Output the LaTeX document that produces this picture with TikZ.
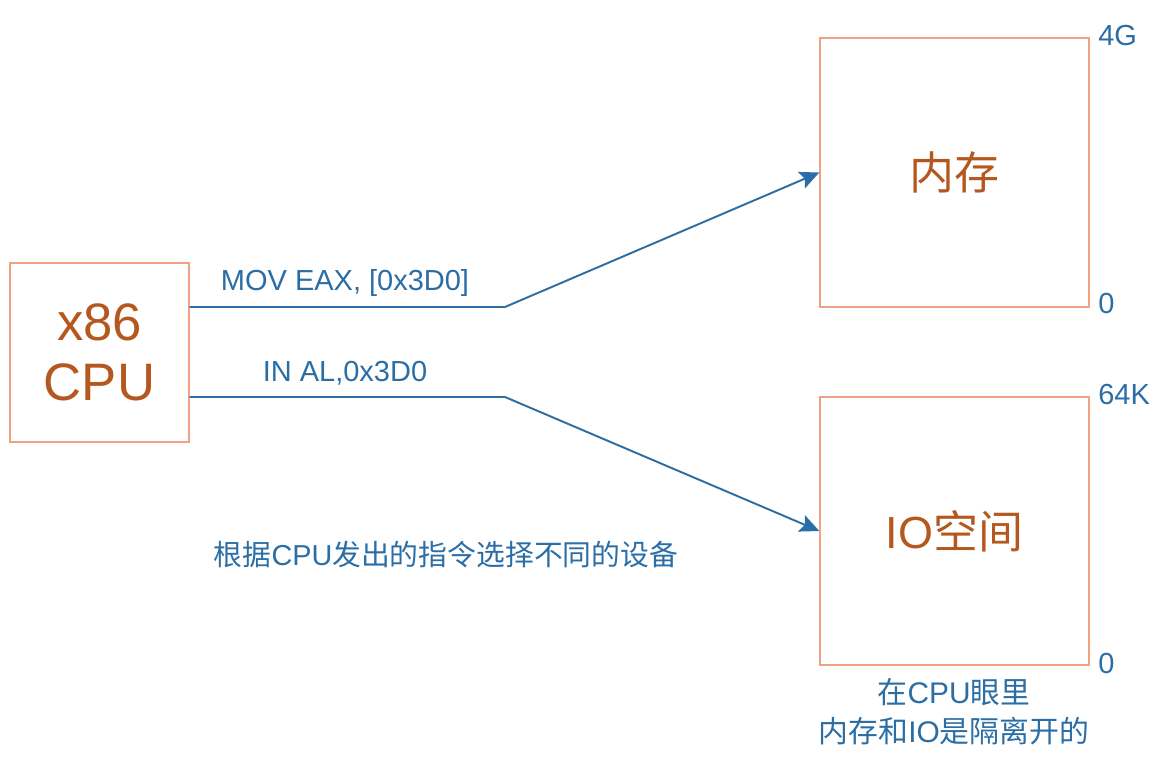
\documentclass[tikz,border=0pt]{standalone}
\usepackage{fontspec}
\setmainfont{Liberation Sans}
\newfontfamily\cjk{Noto Sans CJK SC}
\usetikzlibrary{arrows.meta}
\definecolor{rahmen}{HTML}{F0A282}
\definecolor{braun}{HTML}{B5581F}
\definecolor{blau}{HTML}{2B6EA6}
\tikzset{
  kasten/.style={draw=rahmen,line width=0.8pt,text=braun,inner sep=0pt},
  pfeil/.style={draw=blau,line width=1.1pt,-{Stealth[length=11pt,width=10pt,inset=2pt]}},
  beschr/.style={text=blau,inner sep=0pt,font=\fontsize{16.5}{20}\selectfont}
}
\begin{document}
\begin{tikzpicture}[x=0.02cm,y=-0.02cm]
\useasboundingbox (0,0) rectangle (1161,759);
% CPU links
\node[kasten,minimum width=3.58cm,minimum height=3.58cm,align=center,
  font=\fontsize{30}{34}\selectfont] (cpu) at (99.5,352.5) {x86\\CPU};
% Speicher und IO-Raum rechts
\node[kasten,minimum width=5.38cm,minimum height=5.38cm,
  font=\cjk\fontsize{25.6}{30}\selectfont] (mem) at (954.5,172.5) {内存};
\node[kasten,minimum width=5.38cm,minimum height=5.36cm,
  font=\fontsize{25.6}{30}\selectfont] (io) at (954.5,531) {IO{\cjk 空间}};
% Adressgrenzen
\node[beschr,anchor=west] (top1) at (1098,36) {4G};
\node[beschr,anchor=west] (bot1) at (1098,304) {0};
\node[beschr,anchor=west] (top2) at (1098,395) {64K};
\node[beschr,anchor=west] (bot2) at (1098,664) {0};
% Befehle und Pfeile
\coordinate (k1) at (505,307);
\coordinate (k2) at (505,397);
\draw[pfeil] (cpu.east |- k1) -- (k1) -- (mem.west);
\draw[pfeil] (cpu.east |- k2) -- (k2) -- (io.west);
\node[beschr] (mov) at (345,283) {MOV EAX, [0x3D0]};
\node[beschr] (in) at (345,373) {IN AL,0x3D0};
% Erklaerungen
\node[beschr,font=\fontsize{16.4}{20}\selectfont] (wahl) at (446,555)
  {{\cjk 根据}CPU{\cjk 发出的指令选择不同的设备}};
\node[beschr,align=center,font=\fontsize{17}{22}\selectfont] (notiz) at (954,712)
  {{\cjk 在}CPU{\cjk 眼里}\\{\cjk 内存和}IO{\cjk 是隔离开的}};
\end{tikzpicture}
\end{document}
